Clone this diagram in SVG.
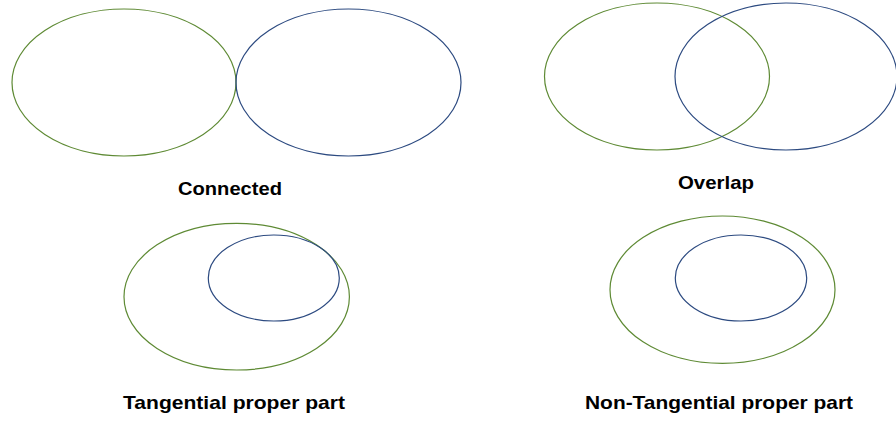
<svg xmlns="http://www.w3.org/2000/svg" width="896" height="421" viewBox="0 0 896 421">
<style>
.g{fill:none;stroke:#5E8A34;stroke-width:1.2}
.b{fill:none;stroke:#2C4A80;stroke-width:1.2}
.t{font-family:"Liberation Sans",Arial,sans-serif;font-weight:bold;font-size:19px;fill:#000;text-anchor:middle}
</style>
<rect width="896" height="421" fill="#fff"/>
<g id="connected">
<ellipse class="g" cx="124" cy="82.5" rx="112" ry="73.5"/>
<ellipse class="b" cx="348.5" cy="82.5" rx="112.5" ry="73.5"/>
<text class="t" x="230" y="195" textLength="104" lengthAdjust="spacingAndGlyphs">Connected</text>
</g>
<g id="overlap">
<ellipse class="g" cx="657" cy="76.5" rx="112.5" ry="73.5"/>
<ellipse class="b" cx="786" cy="76.5" rx="111" ry="73.5"/>
<text class="t" x="716" y="189" textLength="76" lengthAdjust="spacingAndGlyphs">Overlap</text>
</g>
<g id="tpp">
<ellipse class="g" cx="236.7" cy="296.7" rx="112.7" ry="73.3"/>
<ellipse class="b" cx="273.8" cy="278" rx="65.5" ry="43"/>
<text class="t" x="234" y="409" textLength="222" lengthAdjust="spacingAndGlyphs">Tangential proper part</text>
</g>
<g id="ntpp">
<ellipse class="g" cx="722.5" cy="289.7" rx="112.5" ry="73.7"/>
<ellipse class="b" cx="741" cy="278" rx="65.7" ry="43"/>
<text class="t" x="719" y="409" textLength="268" lengthAdjust="spacingAndGlyphs">Non-Tangential proper part</text>
</g>
<g id="connectors"/>
</svg>
